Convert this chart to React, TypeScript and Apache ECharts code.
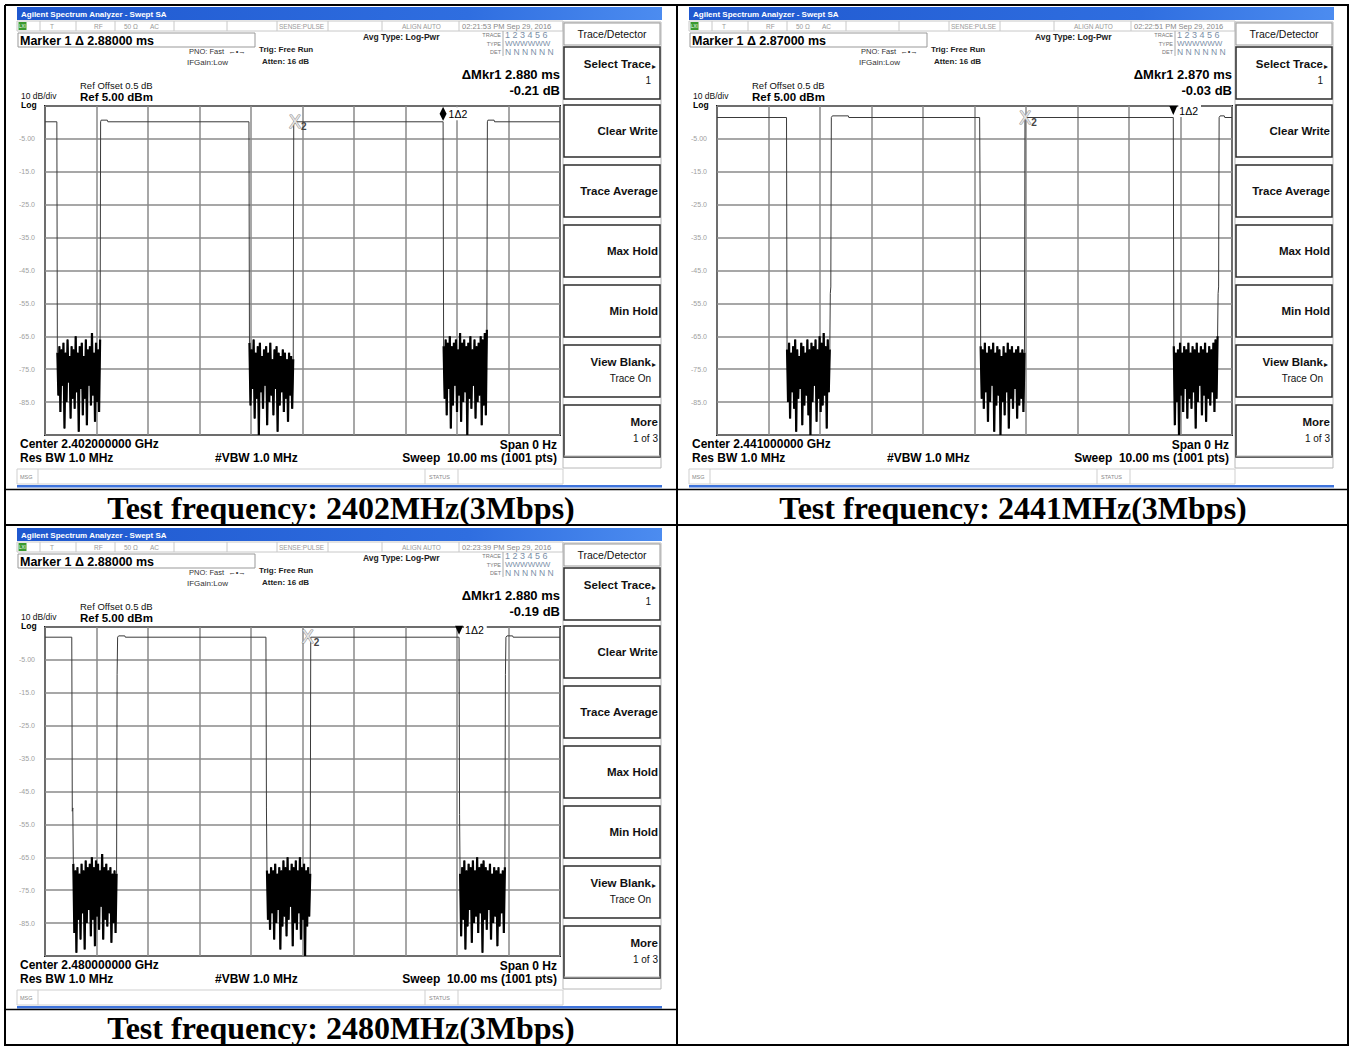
import React, { useEffect, useRef } from "react";
import * as echarts from "echarts";

// ---------------- data (time in ms, level in dBm) ----------------
const X_MIN_MS = 0;
const X_MAX_MS = 10;
const Y_MIN_DBM = -95;
const Y_MAX_DBM = 5;

// 2402 MHz
const TL_SEGMENTS = [
  [[0, 0.2], [0.23, 0.2]],
  [[1.08, 0.2], [1.09, 0.7], [1.21, 0.7], [1.22, 0.2], [3.96, 0.2]],
  [[4.83, 0.2], [7.73, 0.2]],
  [[8.59, 0.2], [8.6, 0.7], [8.72, 0.7], [8.73, 0.2], [10, 0.2]],
];
const TL_BURST_TIMES = [[0.24, 1.07], [3.97, 4.82], [7.74, 8.58]];
const TL_NOISE_1 = [-70, -83, -68, -88, -69, -80, -67, -93, -70, -85, -66, -79, -71, -90, -68, -84, -69, -87, -65, -82, -70, -94, -68, -81, -67, -89, -71, -84, -66, -92, -69, -80, -68, -86, -64, -83, -70, -91, -67, -85, -69, -88, -66];
const TL_NOISE_2 = [-67, -86, -69, -81, -66, -90, -70, -84, -68, -95, -67, -82, -71, -87, -69, -80, -68, -92, -70, -85, -67, -83, -72, -89, -69, -81, -68, -94, -70, -86, -71, -82, -69, -88, -70, -84, -72, -91, -70, -83, -71, -87, -72];
const TL_NOISE_3 = [-68, -84, -66, -89, -67, -81, -65, -93, -68, -86, -67, -80, -66, -88, -69, -83, -64, -91, -67, -85, -66, -82, -68, -95, -67, -84, -65, -87, -69, -80, -66, -90, -68, -85, -67, -83, -65, -92, -66, -86, -64, -89, -63];
const TL_MARKER_1 = [7.73, 0.2];
const TL_MARKER_2 = [4.85, 0.2];

// 2441 MHz
const TR_SEGMENTS = [
  [[0, 1.5], [1.35, 1.5]],
  [[2.2, -52], [2.21, -50], [2.22, 1.5], [2.24, 2.0], [2.55, 2.0], [2.56, 1.5], [5.1, 1.5], [5.11, -26]],
  [[5.98, 1.5], [8.86, 1.5]],
  [[9.73, -52], [9.74, -50], [9.75, 1.5], [9.77, 2.0], [9.85, 2.0], [9.86, 1.5], [10, 1.5]],
];
const TR_BURST_TIMES = [[1.36, 2.19], [5.12, 5.97], [8.87, 9.72]];
const TR_NOISE_1 = [-69, -85, -67, -90, -70, -82, -68, -87, -66, -94, -69, -84, -71, -81, -67, -92, -68, -86, -70, -83, -66, -89, -69, -95, -67, -85, -68, -80, -66, -91, -69, -84, -65, -88, -67, -86, -64, -83, -68, -93, -66, -82, -69];
const TR_NOISE_2 = [-68, -84, -69, -87, -67, -82, -70, -91, -68, -85, -69, -80, -67, -94, -70, -86, -68, -83, -69, -95, -71, -85, -68, -89, -70, -82, -67, -93, -69, -84, -68, -87, -70, -81, -69, -90, -68, -86, -70, -84, -69, -88, -70];
const TR_NOISE_3 = [-68, -92, -70, -85, -69, -95, -67, -83, -70, -88, -68, -81, -69, -90, -67, -84, -70, -87, -68, -82, -69, -93, -67, -85, -70, -80, -68, -89, -69, -83, -67, -91, -70, -84, -68, -86, -69, -82, -67, -88, -66, -84, -65];
const TR_MARKER_1 = [8.86, 1.5];
const TR_MARKER_2 = [5.98, 1.5];

// 2480 MHz
const BL_SEGMENTS = [
  [[0, 1.9], [0.52, 1.9], [0.53, -51], [0.54, -50]],
  [[1.4, -9.5], [1.41, 1.9], [1.43, 2.3], [1.55, 2.3], [1.56, 1.9], [4.29, 1.9], [4.3, -50]],
  [[5.16, 1.9], [8.04, 1.9], [8.05, -52]],
  [[8.94, -9.5], [8.95, 1.9], [8.97, 2.3], [9.08, 2.3], [9.09, 1.9], [10, 1.9]],
];
const BL_BURST_TIMES = [[0.55, 1.39], [4.31, 5.15], [8.06, 8.93]];
const BL_NOISE_1 = [-67, -88, -69, -94, -68, -84, -70, -90, -67, -82, -69, -93, -66, -85, -68, -81, -67, -89, -65, -84, -68, -92, -66, -83, -67, -87, -69, -80, -64, -90, -68, -84, -67, -86, -69, -82, -68, -91, -70, -85, -69, -88, -70];
const BL_NOISE_2 = [-69, -84, -70, -87, -68, -82, -69, -90, -67, -85, -70, -81, -68, -93, -69, -86, -66, -83, -68, -89, -65, -84, -69, -80, -67, -92, -68, -85, -66, -87, -69, -82, -65, -90, -68, -84, -67, -95, -69, -86, -68, -83, -70];
const BL_NOISE_3 = [-70, -89, -68, -84, -66, -93, -69, -86, -67, -81, -68, -91, -66, -85, -69, -83, -65, -88, -68, -82, -67, -94, -66, -84, -68, -87, -69, -81, -67, -90, -70, -85, -68, -83, -69, -92, -68, -86, -70, -82, -69, -88, -68];
const BL_MARKER_1 = [8.04, 1.9];
const BL_MARKER_2 = [5.1, 1.9];

const MARKER_TEXTS = ["Marker 1 Δ 2.88000 ms", "Marker 1 Δ 2.87000 ms", "Marker 1 Δ 2.88000 ms"];
const CLOCK_TEXTS = ["02:21:53 PM Sep 29, 2016", "02:22:51 PM Sep 29, 2016", "02:23:39 PM Sep 29, 2016"];
const DMKR_TIME_TEXTS = ["ΔMkr1 2.880 ms", "ΔMkr1 2.870 ms", "ΔMkr1 2.880 ms"];
const DMKR_DB_TEXTS = ["-0.21 dB", "-0.03 dB", "-0.19 dB"];
const CENTER_TEXTS = ["Center 2.402000000 GHz", "Center 2.441000000 GHz", "Center 2.480000000 GHz"];
const CAPTIONS = ["Test frequency: 2402MHz(3Mbps)", "Test frequency: 2441MHz(3Mbps)", "Test frequency: 2480MHz(3Mbps)"];
const SOFTKEYS = [
  ["Select Trace", "1", true],
  ["Clear Write", "", false],
  ["Trace Average", "", false],
  ["Max Hold", "", false],
  ["Min Hold", "", false],
  ["View Blank", "Trace On", true],
  ["More", "1 of 3", false],
];

// ---------------- layout ----------------
const PANEL_OFFSETS = [[0, 0], [672, 0], [0, 521]];
const FONT = "Liberation Sans";

function buildTrace(segments, burstTimes, bursts) {
  const pts = [];
  segments.forEach((seg, i) => {
    seg.forEach((p) => pts.push(p));
    if (i < bursts.length) pts.push(...buildBurst(burstTimes[i], bursts[i]));
  });
  return pts;
}
function buildBurst([t0, t1], vals) {
  const n = vals.length;
  return vals.map((v, k) => [t0 + ((t1 - t0) * k) / (n - 1), v]);
}

function panelGraphics(idx) {
  const [dx, dy] = PANEL_OFFSETS[idx];
  const e = [];
  const tx = (x, y, text, size, o = {}) =>
    e.push({
      type: "text",
      x: x + dx,
      y: y + dy,
      silent: true,
      z: 10,
      style: {
        text,
        fontSize: size,
        fontFamily: FONT,
        fontWeight: o.bold ? "bold" : "normal",
        fill: o.color || "#000",
        align: o.align || "left",
        verticalAlign: "middle",
      },
    });
  const rc = (x, y, w, h, fill, stroke, lw = 1) =>
    e.push({
      type: "rect",
      silent: true,
      z: 5,
      shape: { x: x + dx, y: y + dy, width: w, height: h },
      style: { fill, stroke, lineWidth: lw },
    });
  const ln = (x1, y1, x2, y2, stroke, lw = 1) =>
    e.push({
      type: "line",
      silent: true,
      z: 6,
      shape: { x1: x1 + dx, y1: y1 + dy, x2: x2 + dx, y2: y2 + dy },
      style: { stroke, lineWidth: lw },
    });

  // title bar
  rc(17, 7, 645, 13, new echarts.graphic.LinearGradient(0, 0, 1, 0, [
    { offset: 0, color: "#1f58cf" },
    { offset: 0.7, color: "#2f6ee0" },
    { offset: 1, color: "#4c8cf0" },
  ]), null);
  tx(21, 14, "Agilent Spectrum Analyzer - Swept SA", 8, { bold: true, color: "#fff" });

  // status row
  rc(17, 21, 546, 10, "#fff", "#c8c8c8", 1);
  [40, 76, 115, 174, 227, 277, 328, 382, 459].forEach((x) => ln(x, 21, x, 31, "#c8c8c8"));
  rc(18.5, 22, 8, 8, "#3a9a2e", null);
  tx(19, 26.5, "LXI", 4.5, { color: "#fff" });
  tx(50, 26.5, "T", 6.5, { color: "#999" });
  tx(94, 26.5, "RF", 6.5, { color: "#999" });
  tx(124, 26.5, "50 Ω", 6.5, { color: "#999" });
  tx(150, 26.5, "AC", 6.5, { color: "#999" });
  tx(279, 26.5, "SENSE:PULSE", 6.5, { color: "#999" });
  tx(402, 26.5, "ALIGN AUTO", 6.5, { color: "#999" });
  tx(462, 26.5, CLOCK_TEXTS[idx], 7.5, { color: "#888" });

  // marker box
  rc(18, 33, 237, 14, "#fff", "#999", 1);
  tx(20, 40.5, MARKER_TEXTS[idx], 12.5, { bold: true });
  tx(189, 51.5, "PNO: Fast  ←•→", 7.5, { color: "#333" });
  tx(187, 62, "IFGain:Low", 8, { color: "#333" });
  tx(259, 49, "Trig: Free Run", 8, { bold: true, color: "#222" });
  tx(262, 61, "Atten: 16 dB", 8, { bold: true, color: "#222" });
  tx(363, 37, "Avg Type: Log-Pwr", 8.5, { bold: true, color: "#222" });

  // trace table
  tx(501, 35, "TRACE", 5.5, { color: "#777", align: "right" });
  tx(501, 43.5, "TYPE", 5.5, { color: "#777", align: "right" });
  tx(501, 51.5, "DET", 5.5, { color: "#777", align: "right" });
  ln(503, 31, 503, 56, "#aaa");
  tx(505, 35, "1 2 3 4 5 6", 9, { color: "#7b8fa8" });
  tx(505, 43.5, "WWWWWW", 8, { color: "#7b8fa8" });
  tx(505, 51.5, "N N N N N N", 8.5, { color: "#7b8fa8" });

  // delta marker readout
  tx(560, 74, DMKR_TIME_TEXTS[idx], 13, { align: "right", bold: true });
  tx(560, 90, DMKR_DB_TEXTS[idx], 13, { align: "right", bold: true });

  // reference info
  tx(80, 85, "Ref Offset 0.5 dB", 9.5, { color: "#111" });
  tx(80, 97, "Ref 5.00 dBm", 11.5, { bold: true });
  tx(21, 96, "10 dB/div", 8.5, { color: "#111" });
  tx(21, 105, "Log", 8.5, { bold: true });

  // bottom info
  tx(20, 444, CENTER_TEXTS[idx], 12, { bold: true });
  tx(20, 457.5, "Res BW 1.0 MHz", 12, { bold: true });
  tx(215, 457.5, "#VBW 1.0 MHz", 12, { bold: true });
  tx(557, 444.5, "Span 0 Hz", 12, { bold: true, align: "right" });
  tx(557, 457.5, "Sweep  10.00 ms (1001 pts)", 12, { bold: true, align: "right" });

  // msg / status bar
  rc(17, 469, 546, 15, "#fff", "#cfcfcf", 1);
  ln(38, 469, 38, 484, "#cfcfcf");
  ln(425, 469, 425, 484, "#cfcfcf");
  ln(458, 469, 458, 484, "#cfcfcf");
  tx(20, 476.5, "MSG", 5.5, { color: "#888" });
  tx(429, 476.5, "STATUS", 5.5, { color: "#888" });
  rc(17, 485, 645, 2.5, "#3f74dc", null);

  // softkeys
  rc(563, 22, 98, 446, "#fff", "#b8b8b8", 1);
  rc(564, 23, 96, 22, "#fff", "#9a9a9a", 1);
  tx(612, 33.5, "Trace/Detector", 10.5, { align: "center", color: "#111" });
  const boxTops = [47, 105, 165, 225, 285, 345, 405];
  SOFTKEYS.forEach(([main, sub, arrow], i) => {
    const top = boxTops[i];
    rc(564, top, 96, 52, "#fff", "#2c2c2c", 1.5);
    const rx = arrow ? 651 : 658;
    tx(rx, top + (sub ? 17 : 26), main, 11.5, { bold: true, align: "right", color: "#111" });
    if (sub) tx(arrow ? 651 : 658, top + 33, sub, 10, { align: "right", color: "#111" });
    if (arrow) tx(652, top + 19, "▸", 8, { color: "#111" });
  });
  ln(564, 456, 660, 456, "#b8b8b8");

  return e;
}

function tableGraphics() {
  const e = [];
  const ln = (x1, y1, x2, y2, lw = 2) =>
    e.push({ type: "line", silent: true, z: 20, shape: { x1, y1, x2, y2 }, style: { stroke: "#000", lineWidth: lw } });
  ln(5, 5, 1349, 5);
  ln(5, 1045, 1349, 1045);
  ln(5, 5, 5, 1046);
  ln(677, 5, 677, 1046);
  ln(1348, 5, 1348, 1046);
  ln(5, 489.5, 1348, 489.5, 1.5);
  ln(5, 525, 1348, 525);
  ln(5, 1009.5, 677, 1009.5, 1.5);
  const cap = (x, y, text) =>
    e.push({
      type: "text",
      x,
      y,
      silent: true,
      z: 20,
      style: { text, fontSize: 32, fontFamily: "Liberation Serif", fontWeight: "bold", fill: "#000", align: "center", verticalAlign: "middle" },
    });
  cap(341, 508, CAPTIONS[0]);
  cap(1013, 508, CAPTIONS[1]);
  cap(341, 1028, CAPTIONS[2]);
  return e;
}

const PANEL_DATA = [
  [TL_SEGMENTS, TL_BURST_TIMES, [TL_NOISE_1, TL_NOISE_2, TL_NOISE_3]],
  [TR_SEGMENTS, TR_BURST_TIMES, [TR_NOISE_1, TR_NOISE_2, TR_NOISE_3]],
  [BL_SEGMENTS, BL_BURST_TIMES, [BL_NOISE_1, BL_NOISE_2, BL_NOISE_3]],
];
const MARKERS_1 = [TL_MARKER_1, TR_MARKER_1, BL_MARKER_1];
const MARKERS_2 = [TL_MARKER_2, TR_MARKER_2, BL_MARKER_2];

export default function App() {
  const ref = useRef(null);
  useEffect(() => {
    const chart = echarts.init(ref.current, null, { renderer: "svg" });
    const grids = [];
    const xAxes = [];
    const yAxes = [];
    const series = [];
    PANEL_OFFSETS.forEach(([dx, dy], i) => {
      const [segs, times, noise] = PANEL_DATA[i];
      grids.push({ left: 45 + dx, top: 106 + dy, width: 515, height: 329, show: true, borderColor: "#1a1a1a", borderWidth: 2, backgroundColor: "#fff", containLabel: false });
      xAxes.push({
        type: "value", gridIndex: i, min: X_MIN_MS, max: X_MAX_MS, interval: 1,
        axisLine: { show: false }, axisTick: { show: false }, axisLabel: { show: false },
        splitLine: { show: true, lineStyle: { color: "#8a8a8a", width: 1.5 } },
      });
      yAxes.push({
        type: "value", gridIndex: i, min: Y_MIN_DBM, max: Y_MAX_DBM, interval: 10,
        axisLine: { show: false }, axisTick: { show: false },
        axisLabel: {
          show: true, margin: 10, fontSize: 7, color: "#a0a0a0", fontFamily: FONT,
          formatter: (v) => (v === -5 ? "-5.00" : v <= -15 && v >= -85 ? v.toFixed(1) : ""),
        },
        splitLine: { show: true, lineStyle: { color: "#8a8a8a", width: 1.5 } },
      });
      const isDiamond = i === 0;
      series.push({
        type: "line", xAxisIndex: i, yAxisIndex: i, data: buildTrace(segs, times, noise), showSymbol: false, silent: true,
        lineStyle: { color: "#3a3a3a", width: 1 },
        z: 3,
        markPoint: {
          silent: true,
          z: 6,
          data: [
            {
              coord: MARKERS_1[i],
              symbol: isDiamond ? "diamond" : "triangle",
              symbolRotate: isDiamond ? 0 : 180,
              symbolSize: isDiamond ? [7, 14] : [8, 9],
              symbolOffset: isDiamond ? [0, -8] : [0, -7],
              itemStyle: { color: "#000" },
              label: {
                show: true, position: "right", distance: 1, formatter: "1Δ2", fontSize: 10.5, fontFamily: FONT,
                color: "#000", backgroundColor: "#fff", padding: [1, 3, 1, 1],
              },
            },
            {
              coord: MARKERS_2[i],
              symbol: "circle",
              symbolSize: 1,
              itemStyle: { color: "rgba(0,0,0,0)" },
              label: {
                show: true, position: "inside", offset: [3, 0], formatter: "{x|X}{n|2}",
                rich: {
                  x: { fontSize: 18, fontFamily: FONT, color: "#e4e4e4", textBorderColor: "#8c8c8c", textBorderWidth: 1 },
                  n: { fontSize: 10, fontFamily: FONT, fontWeight: "bold", color: "#444", padding: [10, 0, 0, 0] },
                },
              },
            },
          ],
        },
      });
      // dense noise bursts drawn heavier, like the analyzer's 1001-point trace
      times.forEach((tt, k) => {
        series.push({
          type: "line", xAxisIndex: i, yAxisIndex: i, data: buildBurst(tt, noise[k]), showSymbol: false, silent: true,
          lineStyle: { color: "#000", width: 2.2 }, z: 4,
        });
      });
    });
    const graphic = [...tableGraphics(), ...panelGraphics(0), ...panelGraphics(1), ...panelGraphics(2)];
    chart.setOption({
      animation: false,
      backgroundColor: "#fff",
      grid: grids,
      xAxis: xAxes,
      yAxis: yAxes,
      series,
      graphic,
    });
    return () => chart.dispose();
  }, []);
  return <div ref={ref} style={{ position: "absolute", left: 0, top: 0, width: 1351, height: 1046 }} />;
}
